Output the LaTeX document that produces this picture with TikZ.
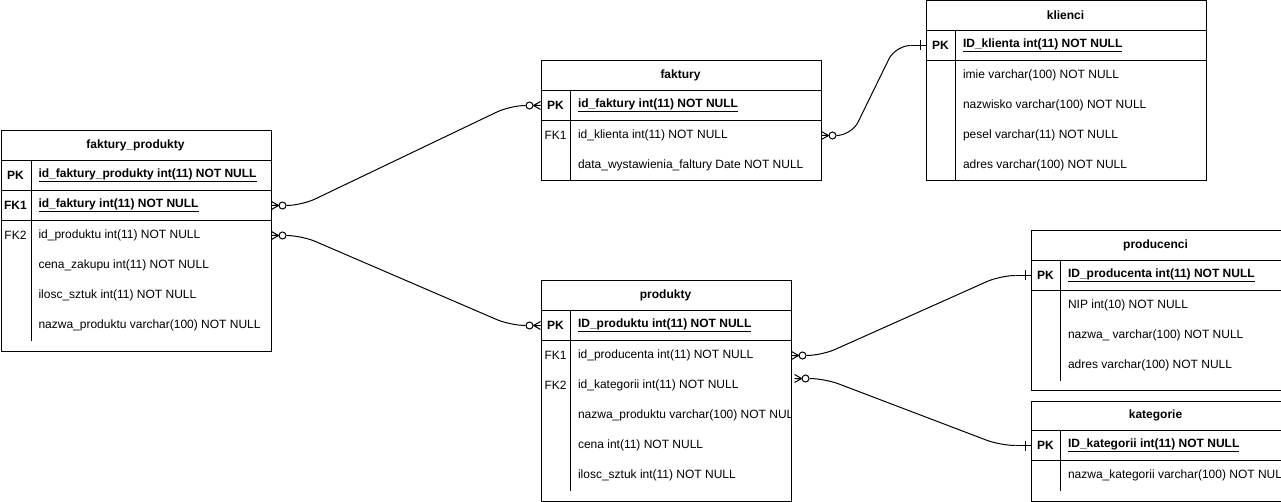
\documentclass[tikz,border=0pt]{standalone}
\usepackage{fontspec}
\setmainfont{Liberation Sans}
\usetikzlibrary{calc}

\begin{document}
\begin{tikzpicture}[x=1pt, y=-1pt, line width=1pt,
    tabela/.style={draw, anchor=north west, inner sep=0pt},
    naglowek/.style={font=\fontsize{12pt}{14pt}\selectfont\bfseries},
    klucz/.style={font=\fontsize{12pt}{14pt}\selectfont\bfseries},
    obcy/.style={font=\fontsize{12pt}{14pt}\selectfont},
    pk/.style={anchor=west, inner sep=0pt, font=\fontsize{12pt}{14pt}\selectfont\bfseries},
    pole/.style={anchor=west, inner sep=0pt, font=\fontsize{12pt}{14pt}\selectfont},
    rel/.style={rounded corners=15pt},
    zero many/.pic={\draw (0,-4) -- (7,0) -- (0,4) (0,0) -- (7,0);
      \draw (11,0) circle[radius=3.5pt];},
    one/.pic={\draw (0,0) -- (15,0) (5,-5) -- (5,5);}]
  \useasboundingbox (0,0) rectangle (1281,502);

  % faktury_produkty
  \node[tabela, minimum width=270, minimum height=220] (fp) at (0.5,130.5) {};
  \draw (0.5,160.5) -- (270.5,160.5) (0.5,190.5) -- (270.5,190.5) (0.5,220.5) -- (270.5,220.5) (31.5,160.5) -- (31.5,340.5);
  \node[naglowek] (fp-h) at (135.5,145.5) {faktury\_produkty};
  \node[klucz] (fp-k1) at (15.5,175.5) {PK};
  \node[klucz] (fp-k2) at (15.5,205.5) {FK1};
  \node[obcy] (fp-k3) at (15.5,235.5) {FK2};
  \node[pk] (fp1) at (38,175.5) {\underline{id\_faktury\_produkty int(11) NOT NULL}};
  \node[pk] (fp2) at (38,205.5) {\underline{id\_faktury int(11) NOT NULL}};
  \foreach \t [count=\i from 3] in {{id\_produktu int(11) NOT NULL},
      {cena\_zakupu int(11) NOT NULL}, {ilosc\_sztuk int(11) NOT NULL},
      {nazwa\_produktu varchar(100) NOT NULL}}
    \node[pole] (fp\i) at (38,{175.5+30*(\i-1)}) {\t};

  % faktury
  \node[tabela, minimum width=280, minimum height=120] (fa) at (540.5,60.5) {};
  \draw (540.5,90.5) -- (820.5,90.5) (540.5,120.5) -- (820.5,120.5) (570.5,90.5) -- (570.5,180.5);
  \node[naglowek] (fa-h) at (680.5,75.5) {faktury};
  \node[klucz] (fa-k1) at (555.5,105.5) {PK};
  \node[obcy] (fa-k2) at (555.5,135.5) {FK1};
  \node[pk] (fa1) at (577.5,105.5) {\underline{id\_faktury int(11) NOT NULL}};
  \node[pole] (fa2) at (577.5,135.5) {id\_klienta int(11) NOT NULL};
  \node[pole] (fa3) at (577.5,165.5) {data\_wystawienia\_faltury Date NOT NULL};

  % klienci
  \node[tabela, minimum width=280, minimum height=180] (kl) at (925.5,0.5) {};
  \draw (925.5,30.5) -- (1205.5,30.5) (925.5,60.5) -- (1205.5,60.5) (955.5,30.5) -- (955.5,180.5);
  \node[naglowek] (kl-h) at (1065.5,15.5) {klienci};
  \node[klucz] (kl-k1) at (940.5,45.5) {PK};
  \node[pk] (kl1) at (962.5,45.5) {\underline{ID\_klienta int(11) NOT NULL}};
  \foreach \t [count=\i from 2] in {{imie varchar(100) NOT NULL},
      {nazwisko varchar(100) NOT NULL}, {pesel varchar(11) NOT NULL},
      {adres varchar(100) NOT NULL}}
    \node[pole] (kl\i) at (962.5,{45.5+30*(\i-1)}) {\t};

  % produkty
  \node[tabela, minimum width=250, minimum height=220] (pr) at (540.5,280.5) {};
  \draw (540.5,310.5) -- (790.5,310.5) (540.5,340.5) -- (790.5,340.5) (570.5,310.5) -- (570.5,490.5);
  \node[naglowek] (pr-h) at (665.5,295.5) {produkty};
  \node[klucz] (pr-k1) at (555.5,325.5) {PK};
  \node[obcy] (pr-k2) at (555.5,355.5) {FK1};
  \node[obcy] (pr-k3) at (555.5,385.5) {FK2};
  \node[pk] (pr1) at (577.5,325.5) {\underline{ID\_produktu int(11) NOT NULL}};
  \begin{scope}
    \clip (570.5,340.5) rectangle (790,490.5);
    \foreach \t [count=\i from 2] in {{id\_producenta int(11) NOT NULL},
        {id\_kategorii int(11) NOT NULL}, {nazwa\_produktu varchar(100) NOT NULL},
        {cena int(11) NOT NULL}, {ilosc\_sztuk int(11) NOT NULL}}
      \node[pole] (pr\i) at (577.5,{325.5+30*(\i-1)}) {\t};
  \end{scope}

  % producenci
  \node[tabela, minimum width=250, minimum height=159] (pc) at (1030.5,230.5) {};
  \draw (1030.5,260.5) -- (1280.5,260.5) (1030.5,290.5) -- (1280.5,290.5) (1060.5,260.5) -- (1060.5,380.5);
  \node[naglowek] (pc-h) at (1155.5,245.5) {producenci};
  \node[klucz] (pc-k1) at (1045.5,275.5) {PK};
  \node[pk] (pc1) at (1067.5,275.5) {\underline{ID\_producenta int(11) NOT NULL}};
  \foreach \t [count=\i from 2] in {{NIP int(10) NOT NULL},
      {nazwa\_ varchar(100) NOT NULL}, {adres varchar(100) NOT NULL}}
    \node[pole] (pc\i) at (1067.5,{275.5+30*(\i-1)}) {\t};

  % kategorie
  \node[tabela, minimum width=250, minimum height=100] (kt) at (1030.5,400.5) {};
  \draw (1030.5,430.5) -- (1280.5,430.5) (1030.5,460.5) -- (1280.5,460.5) (1060.5,430.5) -- (1060.5,490.5);
  \node[naglowek] (kt-h) at (1155.5,415.5) {kategorie};
  \node[klucz] (kt-k1) at (1045.5,445.5) {PK};
  \node[pk] (kt1) at (1067.5,445.5) {\underline{ID\_kategorii int(11) NOT NULL}};
  \begin{scope}
    \clip (1060.5,460.5) rectangle (1280,490.5);
    \node[pole] (kt2) at (1067.5,475.5) {nazwa\_kategorii varchar(100) NOT NULL};
  \end{scope}

  % relacje
  \pic at (fp.east |- fp2) {zero many};
  \pic[xscale=-1] at (fa.west |- fa1) {zero many};
  \draw[rel] ($(fp.east |- fp2)+(15,0)$) -- ++(15,0) -- ($(fa.west |- fa1)+(-30,0)$) -- ++(15,0);

  \pic at (fp.east |- fp3) {zero many};
  \pic[xscale=-1] at (pr.west |- pr1) {zero many};
  \draw[rel] ($(fp.east |- fp3)+(15,0)$) -- ++(15,0) -- ($(pr.west |- pr1)+(-30,0)$) -- ++(15,0);

  \pic at (fa.east |- fa2) {zero many};
  \pic[xscale=-1] at (kl.west |- kl1) {one};
  \draw[rel] ($(fa.east |- fa2)+(15,0)$) -- ++(15,0) -- ($(kl.west |- kl1)+(-30,0)$) -- ++(15,0);

  \pic at (pr.east |- pr2) {zero many};
  \pic[xscale=-1] at (pc.west |- pc1) {one};
  \draw[rel] ($(pr.east |- pr2)+(15,0)$) -- ++(15,0) -- ($(pc.west |- pc1)+(-30,0)$) -- ++(15,0);

  \pic at ($(pr.east |- pr3)+(3,-7)$) {zero many};
  \pic[xscale=-1] at (kt.west |- kt1) {one};
  \draw[rel] ($(pr.east |- pr3)+(18,-7)$) -- ++(15,0) -- ($(kt.west |- kt1)+(-30,0)$) -- ++(15,0);
\end{tikzpicture}
\end{document}
